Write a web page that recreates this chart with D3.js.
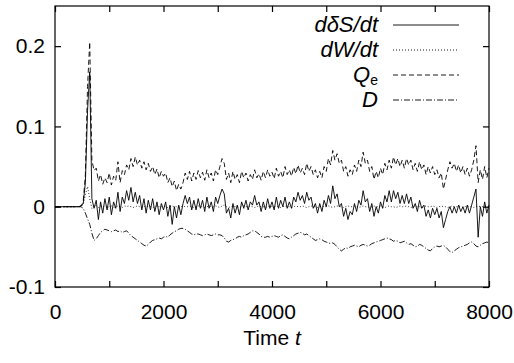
<!DOCTYPE html>
<html>
<head>
<meta charset="utf-8">
<script src="https://cdn.jsdelivr.net/npm/d3@7"></script>
<style>
  body { margin: 0; background: #fff; }
  svg { display: block; }
</style>
</head>
<body>
<svg id="chart" width="514" height="363"></svg>
<script>
// sampling of every series: t = 0, 40, 80, ... 8000
const tStep = 40
const tEnd = 8000

const xTicks = [0, 1000, 2000, 3000, 4000, 5000, 6000, 7000, 8000]
const xLabels = [0, 2000, 4000, 6000, 8000]
const yTicks = [-0.1, 0, 0.1, 0.2]

// d(delta S)/dt
const dSdt = [
  0, 0, 0, 0, 0, 0, 0, 0, 0, 0,
  0, 0, .001, .004, .030, .120, .168, .010, -.002, .008,
  -.016, .006, -.008, .010, -.004, .012, -.010, .006, -.002, .018,
  -.006, .012, .004, .020, .008, .024, .006, .018, .004, .014,
  -.004, .010, -.008, .008, -.004, .010, -.006, .006, -.010, .004,
  -.004, .006, -.012, .002, -.022, .000, -.014, .002, -.010, .004,
  .014, .004, .012, -.004, .008, -.004, .010, -.002, .008, -.006,
  .012, -.002, .006, -.006, .012, .004, .014, .022, .016, -.008,
  -.002, -.014, .004, -.008, .002, -.010, .006, -.002, .008, -.004,
  .006, .002, .014, .002, .006, -.006, .006, -.004, .010, -.002,
  .006, -.004, .012, -.002, .008, .000, .012, -.002, .006, -.002,
  .012, .006, .018, .008, .014, .004, .018, .008, .012, -.002,
  .004, -.008, .004, -.006, .008, .000, .014, .004, .026, .010,
  .016, .000, .004, -.012, -.002, -.016, -.006, -.010, .004, -.006,
  .008, .002, .020, .006, .010, -.006, .004, -.012, .000, -.008,
  .006, -.002, .014, .006, .020, .006, .020, .010, .018, .004,
  .014, .004, .016, .004, .012, -.002, .004, -.006, .008, -.002,
  .002, -.012, -.004, -.014, -.002, -.010, -.002, -.014, -.006, -.026,
  -.016, -.006, .000, -.008, .000, -.008, .002, -.006, .000, -.008,
  .002, -.008, .002, .012, .022, -.038, .000, -.012, .006, -.008,
  .002
]

// dW/dt
const dWdt = [
  0, 0, 0, 0, 0, 0, 0, 0, 0, 0,
  0, 0, .000, .003, .015, .025, .010, -.002, .002, .001,
  -.001, .001, .000, .001, -.001, .000, .001, -.001, .000, .001,
  .000, -.001, .001, .000, .001, .000, -.001, .000, .001, .000,
  -.001, .000, .001, .000, .000, -.001, .000, .001, .000, .000,
  .001, .000, -.001, .000, .001, .000, .000, -.001, .000, .001,
  .000, .000, .001, .000, -.001, .000, .001, .000, .000, -.001,
  .000, .001, .000, .000, .001, .000, -.001, .001, .002, .000,
  -.001, .000, .001, .000, .000, -.001, .000, .001, .000, .000,
  .001, .000, -.001, .000, .001, .000, .000, -.001, .000, .001,
  .000, .000, .001, .000, -.001, .000, .001, .000, .000, -.001,
  .000, .001, .000, .000, .001, .000, -.001, .000, .001, .000,
  .000, -.001, .000, .001, .000, .000, .001, .000, -.001, .000,
  .001, .000, .000, -.001, .000, .001, .000, .000, .001, .000,
  -.001, .000, .001, .000, .000, -.001, .000, .001, .000, .000,
  .001, .000, -.001, .000, .001, .000, .000, -.001, .000, .001,
  .000, .000, .001, .000, -.001, .000, .001, .000, .000, -.001,
  .000, .001, .000, .000, .001, .000, -.001, .000, .001, .000,
  .000, -.001, .000, .001, .000, .000, .001, .000, -.001, .000,
  .001, .000, .000, -.001, .000, .001, .000, .000, .001, .000,
  .000
]

// Q_e
const qe = [
  0, 0, 0, 0, 0, 0, 0, 0, 0, 0,
  0, 0, .001, .006, .040, .150, .205, .058, .045, .048,
  .032, .040, .028, .036, .030, .042, .027, .038, .033, .056,
  .030, .045, .040, .052, .046, .060, .050, .062, .052, .058,
  .048, .056, .046, .054, .044, .050, .040, .047, .036, .044,
  .038, .042, .030, .036, .025, .032, .020, .028, .022, .030,
  .042, .034, .044, .032, .042, .034, .045, .036, .043, .033,
  .046, .036, .042, .032, .046, .040, .050, .060, .054, .034,
  .042, .030, .044, .034, .040, .030, .044, .036, .042, .032,
  .040, .034, .046, .036, .041, .033, .044, .036, .046, .038,
  .043, .035, .048, .038, .044, .036, .050, .040, .046, .038,
  .049, .041, .052, .042, .048, .040, .054, .044, .050, .040,
  .046, .036, .044, .036, .050, .044, .060, .052, .070, .058,
  .066, .054, .058, .044, .050, .038, .046, .040, .052, .044,
  .058, .050, .068, .054, .058, .044, .050, .034, .044, .036,
  .048, .040, .054, .046, .058, .048, .062, .052, .060, .050,
  .058, .048, .060, .052, .058, .046, .054, .044, .056, .046,
  .052, .040, .050, .042, .050, .040, .046, .036, .042, .022,
  .034, .046, .056, .048, .054, .044, .052, .042, .050, .040,
  .048, .038, .046, .058, .076, .030, .046, .034, .050, .036,
  .048
]

// D
const dis = [
  0, 0, 0, 0, 0, 0, 0, 0, 0, 0,
  0, 0, 0, -.002, -.008, -.015, -.022, -.033, -.042, -.040,
  -.036, -.032, -.030, -.028, -.029, -.030, -.031, -.030, -.029, -.031,
  -.030, -.032, -.031, -.030, -.033, -.036, -.038, -.040, -.042, -.044,
  -.046, -.048, -.049, -.047, -.044, -.042, -.041, -.040, -.039, -.040,
  -.038, -.037, -.038, -.035, -.033, -.031, -.030, -.028, -.027, -.027,
  -.028, -.030, -.032, -.034, -.035, -.034, -.034, -.035, -.036, -.035,
  -.034, -.035, -.036, -.035, -.034, -.035, -.035, -.036, -.039, -.043,
  -.044, -.042, -.041, -.040, -.038, -.037, -.038, -.036, -.035, -.034,
  -.032, -.030, -.030, -.032, -.034, -.037, -.038, -.038, -.037, -.038,
  -.037, -.036, -.037, -.038, -.036, -.035, -.037, -.039, -.040, -.038,
  -.036, -.034, -.033, -.032, -.033, -.035, -.034, -.036, -.038, -.040,
  -.042, -.041, -.040, -.041, -.043, -.044, -.045, -.046, -.045, -.047,
  -.050, -.053, -.055, -.053, -.051, -.052, -.050, -.049, -.048, -.049,
  -.050, -.048, -.047, -.048, -.049, -.048, -.046, -.045, -.044, -.043,
  -.042, -.041, -.040, -.039, -.040, -.041, -.043, -.042, -.043, -.045,
  -.044, -.043, -.045, -.047, -.046, -.048, -.050, -.049, -.047, -.048,
  -.050, -.052, -.054, -.055, -.052, -.050, -.049, -.050, -.049, -.048,
  -.050, -.053, -.056, -.057, -.055, -.053, -.051, -.050, -.049, -.048,
  -.047, -.045, -.044, -.046, -.049, -.050, -.048, -.046, -.045, -.044,
  -.045
]

const seriesNames = ['dδS/dt', 'dW/dt', 'Q', 'D']
const seriesValues = [dSdt, dWdt, qe, dis]
const seriesDash = [null, '1,2', '5,3', '6,2,1,2']

const font = '"Liberation Sans", Arial, sans-serif'

const width = 514
const height = 363
const margin = { top: 6, right: 25, bottom: 76, left: 55 }
const innerW = width - margin.left - margin.right
const innerH = height - margin.top - margin.bottom

const svg = d3.select('#chart')
const g = svg.append('g')
  .attr('transform', `translate(${margin.left},${margin.top})`)

const x = d3.scaleLinear().domain([0, tEnd]).range([0, innerW])
const y = d3.scaleLinear().domain([-0.1, 0.25]).range([innerH, 0])

const times = d3.range(0, tEnd + 1, tStep)

const line = d3.line()
  .x((d) => x(d[0]))
  .y((d) => y(d[1]))

seriesValues.forEach((vals, k) => {
  g.append('path')
    .datum(times.map((t, i) => [t, vals[i]]))
    .attr('fill', 'none')
    .attr('stroke', '#000')
    .attr('stroke-width', k === 1 ? 0.8 : 0.9)
    .attr('stroke-dasharray', seriesDash[k])
    .attr('d', line)
})

// frame
g.append('rect')
  .attr('width', innerW)
  .attr('height', innerH)
  .attr('fill', 'none')
  .attr('stroke', '#000')
  .attr('stroke-width', 1.2)

const fmtX = (d) => (xLabels.includes(d) ? String(d) : '')
// gnuplot style: plain hyphen for negatives
const fmtY = (d) => (d === 0 ? '0' : d.toFixed(1))

const axes = [
  g.append('g').attr('transform', `translate(0,${innerH})`)
    .call(d3.axisBottom(x).tickValues(xTicks).tickSize(-6).tickPadding(17).tickFormat(fmtX)),
  g.append('g')
    .call(d3.axisTop(x).tickValues(xTicks).tickSize(-6).tickFormat('')),
  g.append('g')
    .call(d3.axisLeft(y).tickValues(yTicks).tickSize(-6).tickPadding(10).tickFormat(fmtY)),
  g.append('g').attr('transform', `translate(${innerW},0)`)
    .call(d3.axisRight(y).tickValues(yTicks).tickSize(-6).tickFormat('')),
]
axes.forEach((a) => {
  a.select('.domain').remove()
  a.selectAll('line').attr('stroke', '#000').attr('stroke-width', 1.2)
  a.attr('font-family', font).attr('font-size', 21)
  a.selectAll('text').attr('fill', '#000')
})

// axis title
const xTitle = svg.append('text')
  .attr('x', margin.left + innerW / 2)
  .attr('y', 345)
  .attr('text-anchor', 'middle')
  .attr('font-family', font)
  .attr('font-size', 21)
xTitle.append('tspan').text('Time ')
xTitle.append('tspan').attr('font-style', 'italic').text('t')

// legend
const legend = svg.append('g')
seriesNames.forEach((name, k) => {
  const ly = 25 + k * 25
  const txt = legend.append('text')
    .attr('x', 378)
    .attr('y', ly)
    .attr('dy', '0.33em')
    .attr('text-anchor', 'end')
    .attr('font-family', font)
    .attr('font-size', 22)
    .attr('font-style', 'italic')
  txt.append('tspan').text(name)
  if (k === 2) {
    txt.append('tspan')
      .attr('font-style', 'normal')
      .attr('font-size', 14)
      .attr('dy', 3)
      .text('e')
  }
  legend.append('line')
    .attr('x1', 393).attr('x2', 459)
    .attr('y1', ly).attr('y2', ly)
    .attr('stroke', '#000')
    .attr('stroke-width', 0.9)
    .attr('stroke-dasharray', seriesDash[k])
})
</script>
</body>
</html>
